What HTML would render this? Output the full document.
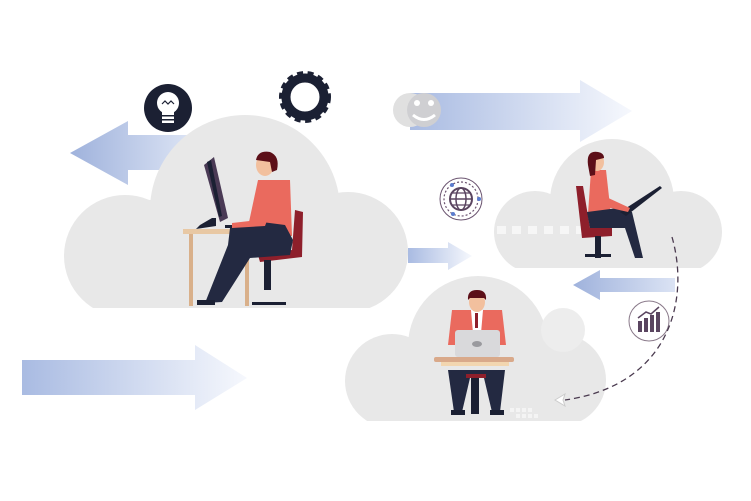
<!DOCTYPE html>
<html><head><meta charset="utf-8"><style>
html,body{margin:0;padding:0;background:#fff;width:751px;height:501px;overflow:hidden}
svg{display:block}
</style></head><body>
<svg width="751" height="501" viewBox="0 0 751 501" xmlns="http://www.w3.org/2000/svg">
<defs>
<linearGradient id="gl" x1="0" x2="1"><stop offset="0" stop-color="#9fb2dc"/><stop offset="1" stop-color="#dbe3f4"/></linearGradient>
<linearGradient id="gr" x1="0" x2="1"><stop offset="0" stop-color="#a9bbe2"/><stop offset="1" stop-color="#f6f8fd"/></linearGradient>
<clipPath id="c1"><rect x="0" y="0" width="751" height="308"/></clipPath>
<clipPath id="c2"><rect x="0" y="0" width="751" height="268"/></clipPath>
<clipPath id="c3"><rect x="0" y="0" width="751" height="421"/></clipPath>
</defs>
<polygon points="70,153 128,121 128,135 190,135 190,170 128,170 128,185" fill="url(#gl)"/>
<polygon points="410,93 580,93 580,80 632,111 580,142 580,130 410,130" fill="url(#gr)"/>
<polygon points="22,360 195,360 195,345 247,378 195,410 195,395 22,395" fill="url(#gr)"/>
<polygon points="408,248 448,248 448,242 472,256 448,270 448,263 408,263" fill="url(#gr)"/>
<polygon points="573,285 600,270 600,278 675,278 675,292 600,292 600,300" fill="url(#gl)"/>
<g fill="#e8e8e8">
<g clip-path="url(#c1)"><circle cx="245" cy="210" r="95"/><circle cx="125" cy="256" r="61"/><circle cx="348" cy="252" r="60"/><rect x="125" y="200" width="225" height="108"/></g>
<g clip-path="url(#c2)"><circle cx="612" cy="201" r="62"/><circle cx="535" cy="232" r="41"/><circle cx="681" cy="232" r="41"/><rect x="535" y="200" width="146" height="68"/></g>
<g clip-path="url(#c3)"><circle cx="478" cy="346" r="70"/><circle cx="392" cy="381" r="47"/><circle cx="560" cy="380" r="46"/><rect x="392" y="340" width="168" height="81"/></g>
</g>
<circle cx="563" cy="330" r="22" fill="#ededed"/>
<g fill="#f6f6f6"><rect x="497" y="226" width="9" height="8"/><rect x="512" y="226" width="9" height="8"/><rect x="528" y="226" width="9" height="8"/><rect x="544" y="226" width="9" height="8"/><rect x="560" y="226" width="9" height="8"/><rect x="576" y="226" width="9" height="8"/></g>
<circle cx="410" cy="110" r="17" fill="#e0e0e0"/>
<circle cx="424" cy="110" r="17" fill="#cfcfd2"/>
<circle cx="417" cy="103" r="3" fill="#fff"/><circle cx="431" cy="103" r="3" fill="#fff"/>
<path d="M413,115 Q424,124 435,115" stroke="#fff" stroke-width="3" fill="none"/>
<circle cx="168" cy="108" r="24" fill="#1b2033"/>
<circle cx="168" cy="103" r="11" fill="#fff"/>
<rect x="162" y="110" width="12" height="13" fill="#fff"/>
<path d="M162,104 l3,-3 3,3 3,-3 3,3" stroke="#1b2033" fill="none" stroke-width="1.2"/>
<rect x="162" y="115" width="12" height="1.5" fill="#1b2033"/><rect x="162" y="119" width="12" height="1.5" fill="#1b2033"/>
<circle cx="305" cy="97" r="19" fill="none" stroke="#1b2033" stroke-width="9"/>
<circle cx="305" cy="97" r="24" fill="none" stroke="#1b2033" stroke-width="4" stroke-dasharray="6 4.5"/>
<circle cx="461" cy="199" r="21" fill="#fff" stroke="#6b5470" stroke-width="1"/>
<circle cx="461" cy="199" r="17" fill="none" stroke="#6b5470" stroke-width="1.2" stroke-dasharray="2 2"/>
<circle cx="461" cy="199" r="11" fill="none" stroke="#5a4560" stroke-width="2"/>
<ellipse cx="461" cy="199" rx="5" ry="11" fill="none" stroke="#5a4560" stroke-width="1.5"/>
<line x1="450" y1="199" x2="472" y2="199" stroke="#5a4560" stroke-width="1.5"/>
<line x1="452" y1="193" x2="470" y2="193" stroke="#5a4560" stroke-width="1.2"/>
<line x1="452" y1="205" x2="470" y2="205" stroke="#5a4560" stroke-width="1.2"/>
<circle cx="452" cy="185" r="2" fill="#5b7ccf"/><circle cx="479" cy="199" r="2" fill="#5b7ccf"/><circle cx="453" cy="214" r="2" fill="#5b7ccf"/>
<circle cx="649" cy="321" r="20" fill="#fff" stroke="#8a7a8a" stroke-width="1"/>
<g fill="#5a4560"><rect x="638" y="321" width="4" height="11"/><rect x="644" y="318" width="4" height="14"/><rect x="650" y="315" width="4" height="17"/><rect x="656" y="312" width="4" height="20"/></g>
<path d="M638,318 L646,312 L651,314 L659,307" stroke="#5a4560" stroke-width="1.5" fill="none"/>
<path d="M672,237 C690,300 670,385 565,400" stroke="#4a3a4f" stroke-width="1.3" fill="none" stroke-dasharray="6 4"/>
<polygon points="555,400 565,394 563,400 565,406" fill="#fff" stroke="#ccc"/>
<!-- person 1 -->
<rect x="183" y="229" width="77" height="5" fill="#e8c8a4"/>
<rect x="189" y="234" width="4" height="72" fill="#d9b08a"/>
<rect x="245" y="234" width="4" height="72" fill="#d9b08a"/>
<polygon points="204,165 214,157 228,218 220,222" fill="#4a3a55"/>
<polygon points="207,162 211,160 222,216 219,217" fill="#1b2033"/>
<polygon points="212,218 216,218 216,226 196,229 200,225" fill="#1b2033"/>
<rect x="225" y="225" width="28" height="3" fill="#1b2033"/>
<polygon points="295,210 303,212 302,257 260,262 258,255 292,250" fill="#8e1f2b"/>
<rect x="264" y="260" width="7" height="30" fill="#1b2033"/>
<rect x="252" y="302" width="34" height="3" fill="#1b2033"/>
<polygon points="258,180 290,180 292,236 246,236" fill="#ea6a5e"/>
<polygon points="230,228 262,222 285,225 293,240 290,255 250,258 222,302 205,303 228,245" fill="#232941"/>
<rect x="197" y="300" width="18" height="5" fill="#1b2033"/>
<polygon points="262,200 275,200 265,226 232,228 232,223 258,220" fill="#ea6a5e"/>
<ellipse cx="265" cy="165" rx="9" ry="11" fill="#f2c09e"/>
<path d="M256,160 Q258,150 270,152 Q280,156 277,170 L272,172 L270,162 Z" fill="#5c0f18"/>
<!-- person 2 -->
<polygon points="576,186 583,186 590,228 612,228 612,236 582,238" fill="#8e1f2b"/>
<rect x="595" y="236" width="6" height="22" fill="#1b2033"/>
<rect x="585" y="254" width="26" height="3" fill="#1b2033"/>
<polygon points="591,170 606,170 611,215 588,214" fill="#ea6a5e"/>
<polygon points="587,212 618,208 632,212 643,258 635,258 625,228 590,228" fill="#232941"/>
<polygon points="620,212 660,186 662,188 626,216" fill="#1b2033"/>
<polygon points="604,196 630,208 628,212 602,206" fill="#ea6a5e"/>
<ellipse cx="597" cy="162" rx="7" ry="9" fill="#f2c09e"/>
<path d="M588,165 Q586,150 598,152 Q604,153 604,158 L596,160 L595,175 L590,176 Z" fill="#5c0f18"/>
<!-- person 3 -->
<polygon points="452,310 502,310 506,345 448,345" fill="#ea6a5e"/>
<polygon points="471,310 483,310 480,345 474,345" fill="#fff"/>
<rect x="475" y="313" width="3" height="15" fill="#8e1f2b"/>
<rect x="455" y="330" width="45" height="27" rx="3" fill="#d9d9db"/>
<ellipse cx="477" cy="344" rx="5" ry="3" fill="#9a9a9e"/>
<rect x="434" y="357" width="80" height="5" rx="2" fill="#d9a98a"/>
<rect x="441" y="362" width="68" height="4" fill="#f2d6b0"/>
<polygon points="448,370 505,370 500,412 492,412 484,378 470,378 462,412 454,412" fill="#232941"/>
<rect x="466" y="374" width="20" height="4" fill="#8e1f2b"/>
<rect x="471" y="378" width="8" height="36" fill="#1b2033"/>
<rect x="451" y="410" width="14" height="5" fill="#1b2033"/><rect x="490" y="410" width="14" height="5" fill="#1b2033"/>
<ellipse cx="477" cy="302" rx="8" ry="10" fill="#f2c09e"/>
<path d="M468,300 Q467,290 477,290 Q487,290 486,300 L484,298 L470,298 Z" fill="#5c0f18"/>
<g fill="#f4f4f4"><rect x="510" y="408" width="4" height="4"/><rect x="516" y="408" width="4" height="4"/><rect x="522" y="408" width="4" height="4"/><rect x="528" y="408" width="4" height="4"/><rect x="516" y="414" width="4" height="4"/><rect x="522" y="414" width="4" height="4"/><rect x="528" y="414" width="4" height="4"/><rect x="534" y="414" width="4" height="4"/></g>
</svg>
</body></html>
